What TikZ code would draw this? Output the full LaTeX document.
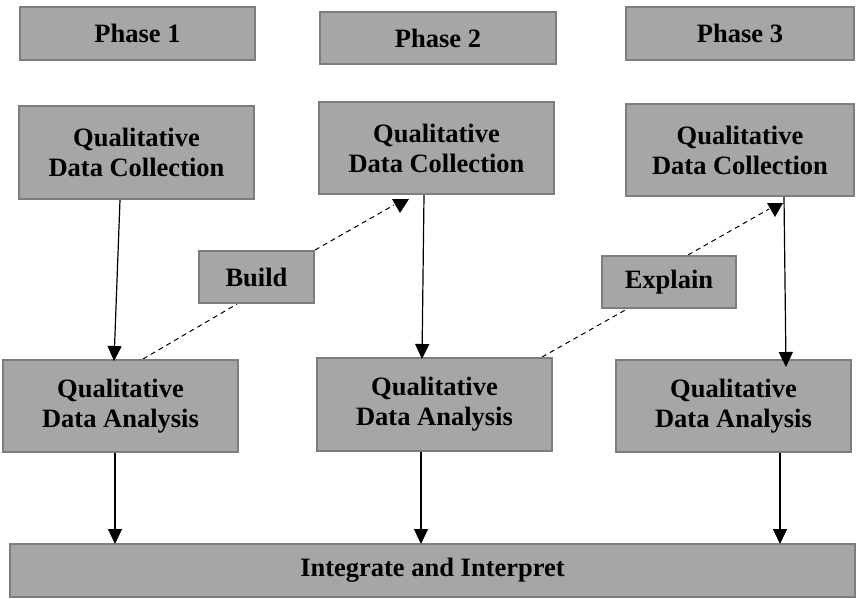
\documentclass[tikz,border=0pt]{standalone}
\usepackage{fontspec}
\setmainfont{Liberation Serif}
\usetikzlibrary{arrows.meta}
\definecolor{boxfill}{RGB}{166,166,166}
\definecolor{boxline}{RGB}{125,125,125}
\pgfdeclarelayer{bg}
\pgfsetlayers{bg,main}
\begin{document}
\begin{tikzpicture}[x=1pt,y=-1pt,
  box/.style={draw=boxline, fill=boxfill, line width=2pt, align=center,
    font=\fontsize{26.5}{30}\selectfont\bfseries, inner sep=0pt},
  arr/.style={line width=1.2pt, -{Triangle[length=15pt,width=14pt]}},
  dsh/.style={line width=1pt, dash pattern=on 5pt off 4pt}]
\useasboundingbox (0,0) rectangle (856,598);
% phase headers
\node[box, minimum width=235pt, minimum height=53pt] (P1) at (137.5,33) {Phase 1};
\node[box, minimum width=236pt, minimum height=52pt] (P2) at (438,38) {Phase 2};
\node[box, minimum width=228pt, minimum height=53pt] (P3) at (740,33) {Phase 3};
% collection
\node[box, minimum width=235pt, minimum height=93pt] (C1) at (136.5,152.5) {Qualitative\\Data Collection};
\node[box, minimum width=235pt, minimum height=92pt] (C2) at (436.5,148) {Qualitative\\Data Collection};
\node[box, minimum width=228pt, minimum height=92pt] (C3) at (740,150) {Qualitative\\Data Collection};
% connectors
\node[box, minimum width=115pt, minimum height=52pt] (B) at (256.5,277) {Build};
\node[box, minimum width=134pt, minimum height=52pt] (E) at (669,282) {Explain};
% analysis
\node[box, minimum width=235pt, minimum height=92pt] (A1) at (120.5,406) {Qualitative\\Data Analysis};
\node[box, minimum width=235pt, minimum height=93pt] (A2) at (434.5,404.5) {Qualitative\\Data Analysis};
\node[box, minimum width=235pt, minimum height=92pt] (A3) at (733.5,406) {Qualitative\\Data Analysis};
% integrate
\node[box, minimum width=845pt, minimum height=53pt] (I) at (432.5,570.5) {Integrate and Interpret};
% tips of dashed connectors
\coordinate (t1) at (400,206);
\coordinate (t2) at (775,210);
\coordinate (a3end) at ([xshift=52.5,yshift=-8]A3.north);
\begin{pgfonlayer}{bg}
\draw[dsh] ([xshift=22.5]A1.north) -- ([xshift=-19.5]B.south);
\draw[dsh] (B.north east) -- ([xshift=-6,yshift=1]t1);
\draw[dsh] ([xshift=107.5]A2.north) -- ([xshift=-42]E.south);
\draw[dsh] ([xshift=19]E.north) -- ([xshift=-6,yshift=1]t2);
\end{pgfonlayer}
\fill (t1) ++(-8,-7) -- ++(17,0) -- ++(-9,14) -- cycle;
\fill (t2) ++(-8,-7) -- ++(16,0) -- ++(-8,14) -- cycle;
% solid arrows
\draw[arr] ([xshift=-16.5]C1.south) -- ([xshift=-6.5,yshift=-2]A1.north);
\draw[arr] ([xshift=-12.5]C2.south) -- ([xshift=-12.5,yshift=-2]A2.north);
\draw[arr] ([xshift=44]C3.south) -- (a3end);
\draw[arr] ([xshift=-5.5]A1.south) -- ([xshift=-5.5,yshift=-1]A1.south |- I.north);
\draw[arr] ([xshift=-13.5]A2.south) -- ([xshift=-13.5,yshift=-1]A2.south |- I.north);
\draw[arr] ([xshift=46.5]A3.south) -- ([xshift=46.5,yshift=-1]A3.south |- I.north);
\end{tikzpicture}
\end{document}
